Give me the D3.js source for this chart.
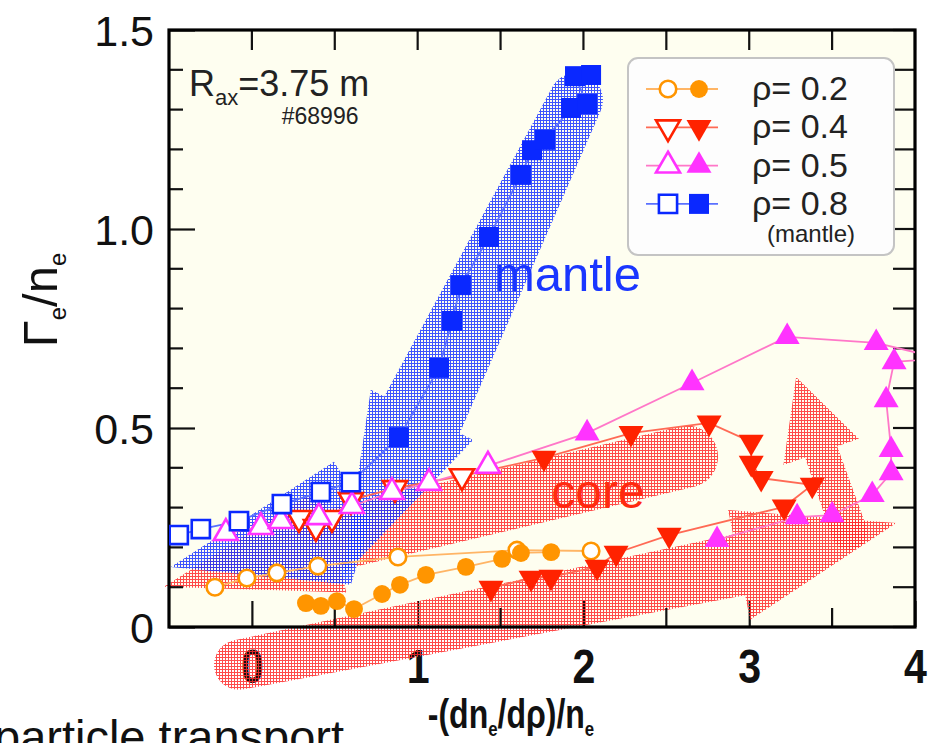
<!DOCTYPE html>
<html><head><meta charset="utf-8">
<script src="https://cdn.jsdelivr.net/npm/d3@7"></script>
<style>
body{margin:0;background:#fff;overflow:hidden}
svg{display:block}
text{font-family:"Liberation Sans",Arial,Helvetica,sans-serif}
</style></head><body>
<svg id="chart" width="930" height="743"></svg>
<script>
// ---- data: normalized gradient -(dn_e/dρ)/n_e  vs  particle flux Γ_e/n_e ----
// ρ = 0.2 (circles)
const rho02Open   = [[-0.223,0.100],[-0.030,0.123],[0.151,0.136],[0.398,0.153],[0.881,0.176],[1.599,0.193],[2.046,0.191]];
const rho02Filled = [[0.326,0.060],[0.416,0.053],[0.513,0.065],[0.616,0.045],[0.785,0.083],[0.893,0.106],[1.050,0.131],[1.291,0.151],[1.509,0.171],[1.623,0.186],[1.805,0.188]];
// ρ = 0.4 (down triangles), filled points in the order they are joined
const rho04Open   = [[0.284,0.274],[0.386,0.251],[0.483,0.274],[0.597,0.319],[0.863,0.349],[1.267,0.379]];
const rho04Filled = [[1.762,0.425],[2.287,0.487],[2.758,0.513],[3.012,0.465],[3.012,0.412],[3.072,0.374],[3.380,0.357],[3.211,0.302],[2.517,0.231],[2.197,0.186],[2.082,0.151],[1.804,0.126],[1.684,0.123],[1.442,0.098]];
// ρ = 0.5 (up triangles); one point of the trace lies beyond x = 4
const rho05Open   = [[-0.157,0.236],[0.054,0.251],[0.175,0.266],[0.404,0.276],[0.604,0.304],[0.845,0.339],[1.068,0.362],[1.424,0.405]];
const rho05Filled = [[2.022,0.487],[2.655,0.613],[3.229,0.729],[3.766,0.714],[4.150,0.675],[3.874,0.666],[3.826,0.570],[3.856,0.445],[3.856,0.387],[3.742,0.332],[3.500,0.281],[3.289,0.276],[2.806,0.219]];
// ρ = 0.8, mantle (squares)
const rho08Open   = [[-0.441,0.231],[-0.308,0.246],[-0.078,0.266],[0.181,0.309],[0.416,0.339],[0.597,0.364]];
const rho08Filled = [[0.887,0.477],[1.129,0.651],[1.207,0.769],[1.261,0.859],[1.430,0.980],[1.623,1.136],[1.690,1.198],[1.768,1.224],[1.925,1.304],[2.022,1.314],[1.949,1.384],[2.046,1.387]];

const xTickValues = [0,1,2,3,4];
const xTickLabels = ["0","1","2","3","4"];
const xMinorValues = [0.5,1.5,2.5,3.5];
const yTickValues = [0,0.5,1.0,1.5];
const yTickLabels = ["0","0.5","1.0","1.5"];
const yMinorValues = [0.1,0.2,0.3,0.4,0.6,0.7,0.8,0.9,1.1,1.2,1.3,1.4];
const legendLabels = ["ρ= 0.2","ρ= 0.4","ρ= 0.5","ρ= 0.8"];

// ---- flow arrows (tail, neck, tip in data units) ----
const flowArrows = [
  {name:"core-inner",  color:"red",  tail:[2.625,0.428], neck:[0.495,0.219], tip:[-0.531,0.101], w0:31, w1:31, wb:54},
  {name:"core-outer",  color:"red",  tail:[-0.078,-0.095], neck:[2.939,0.156], tip:[3.887,0.261], w0:25, w1:31, wb:56},
  {name:"core-rise",   color:"red",  tail:[3.603,0.239], neck:[3.434,0.440], tip:[3.283,0.628], w0:18, w1:17, wb:40},
  {name:"mantle-down", color:"blue", tail:[1.955,1.324], neck:[1.026,0.533], tip:[0.549,0.128], w0:27, w1:42, wb:57}
];
const mantleWedge = [[-0.489,0.151],[0.495,0.415],[0.718,0.269],[0.597,0.106]];

// ---- scales ----
const x = d3.scaleLinear().domain([-0.5,4]).range([169,915]);
const y = d3.scaleLinear().domain([0,1.5]).range([627,30]);

const svg = d3.select("#chart");
const defs = svg.append("defs");
function mesh(id, color){
  const p = defs.append("pattern").attr("id",id).attr("patternUnits","userSpaceOnUse")
    .attr("width",3).attr("height",3);
  p.append("rect").attr("width",3).attr("height",1).attr("fill",color);
  p.append("rect").attr("width",1).attr("height",3).attr("fill",color);
}
mesh("meshRed","#ff2b2b");
mesh("meshBlue","#1c36ff");
defs.append("clipPath").attr("id","plotClip").append("rect")
  .attr("x",x(-0.5)).attr("y",y(1.5)).attr("width",x(4)-x(-0.5)).attr("height",y(0)-y(1.5));

// plot background
svg.append("rect").attr("x",x(-0.5)).attr("y",y(1.5))
  .attr("width",x(4)-x(-0.5)).attr("height",y(0)-y(1.5)).attr("fill","#fefef0");

// ---- axes labels ----
const xAxis = svg.append("g").attr("transform",`translate(0,${y(0)})`)
  .call(d3.axisBottom(x).tickValues(xTickValues).tickSize(-26).tickSizeOuter(0)
    .tickFormat((d,i)=>xTickLabels[i]));
xAxis.select(".domain").remove();
xAxis.selectAll(".tick line").attr("stroke","#111").attr("stroke-width",2.2);
xAxis.selectAll(".tick text").attr("y",0).attr("dy",0)
  .attr("transform","translate(0,56) scale(0.84,1)")
  .attr("font-size",49).attr("font-weight","bold").attr("fill","#111")
  .style("font-family","'Liberation Sans',Arial,sans-serif");

const yAxis = svg.append("g").attr("transform",`translate(${x(-0.5)},0)`)
  .call(d3.axisLeft(y).tickValues(yTickValues).tickSize(-26).tickSizeOuter(0)
    .tickFormat((d,i)=>yTickLabels[i]));
yAxis.select(".domain").remove();
yAxis.selectAll(".tick line").attr("stroke","#111").attr("stroke-width",2.2);
yAxis.selectAll(".tick text").attr("x",-15).attr("dy","0.36em")
  .attr("font-size",43).attr("fill","#111").attr("text-anchor","end")
  .style("font-family","'Liberation Sans',Arial,sans-serif");

// axis titles
const xt = svg.append("text").attr("transform","translate(511,728) scale(0.8,1)")
  .attr("text-anchor","middle").attr("font-size",40).attr("font-weight","bold").attr("fill","#111");
xt.append("tspan").text("-(dn");
xt.append("tspan").text("e").attr("font-size",21).attr("dy",8);
xt.append("tspan").text("/dρ)/n").attr("dy",-8);
xt.append("tspan").text("e").attr("font-size",21).attr("dy",8);

const yt = svg.append("text").attr("transform","translate(57,300) rotate(-90)")
  .attr("text-anchor","middle").attr("font-size",49).attr("fill","#111");
yt.append("tspan").text("Γ");
yt.append("tspan").text("e").attr("font-size",24).attr("dy",9);
yt.append("tspan").text("/n").attr("dy",-9);
yt.append("tspan").text("e").attr("font-size",24).attr("dy",9);

// caption line below
svg.append("text").attr("x",-6).attr("y",753).attr("font-size",47).attr("fill","#111")
  .text("particle transport");

// ---- flow arrows ----
function arrowPath(a){
  const T=[x(a.tail[0]),y(a.tail[1])], N=[x(a.neck[0]),y(a.neck[1])], P=[x(a.tip[0]),y(a.tip[1])];
  const dx=N[0]-T[0], dy=N[1]-T[1], L=Math.hypot(dx,dy);
  const ux=dx/L, uy=dy/L, px=-uy, py=ux;
  const pt=(c,w)=>[c[0]+px*w, c[1]+py*w];
  const tl=pt(T,a.w0), tr=pt(T,-a.w0), nl=pt(N,a.w1), nr=pt(N,-a.w1), bl=pt(N,a.wb), br=pt(N,-a.wb);
  return `M${tl}L${nl}L${bl}L${P}L${br}L${nr}L${tr}A${a.w0},${a.w0} 0 0 0 ${tl}Z`;
}
const arrowLayer = svg.append("g");
flowArrows.filter(a=>a.color==="red").forEach(a=>{
  arrowLayer.append("path").attr("d",arrowPath(a)).attr("fill","url(#meshRed)").attr("opacity",0.85);
});
flowArrows.filter(a=>a.color==="blue").forEach(a=>{
  arrowLayer.append("path").attr("d",arrowPath(a)).attr("fill","url(#meshBlue)").attr("opacity",0.85);
});
arrowLayer.append("path")
  .attr("d",d3.line().x(d=>x(d[0])).y(d=>y(d[1]))(mantleWedge)+"Z")
  .attr("fill","url(#meshBlue)").attr("opacity",0.85);

// ---- frame and inward ticks ----
const frame = svg.append("g");
function tickLines(vals, fn){
  vals.forEach(v=>{ const c=fn(v);
    frame.append("line").attr("x1",c[0]).attr("y1",c[1]).attr("x2",c[2]).attr("y2",c[3])
     .attr("stroke","#111").attr("stroke-width",2.2); });
}
tickLines(xMinorValues, v=>[x(v),y(0),x(v),y(0)-19]);
tickLines(yMinorValues, v=>[x(-0.5),y(v),x(-0.5)+14,y(v)]);
tickLines(xTickValues.concat(xMinorValues), v=>[x(v),y(1.5),x(v),y(1.5)+20]);
tickLines(yTickValues.concat(yMinorValues), v=>[x(4),y(v),x(4)-22,y(v)]);
frame.append("rect").attr("x",x(-0.5)).attr("y",y(1.5))
  .attr("width",x(4)-x(-0.5)).attr("height",y(0)-y(1.5))
  .attr("fill","none").attr("stroke","#000").attr("stroke-width",3.2);

// ---- data series ----
const series = [
  {open:rho02Open, filled:rho02Filled, color:"#ff9500", line:"#ffb565", shape:"circle", joined:false},
  {open:rho04Open, filled:rho04Filled, color:"#ff2200", line:"#ff6a55", shape:"down", joined:true},
  {open:rho05Open, filled:rho05Filled, color:"#ff33ff", line:"#ff77c8", shape:"up", joined:true},
  {open:rho08Open, filled:rho08Filled, color:"#0a28ff", line:"#5a70ff", shape:"square", joined:true}
];
const symType = {circle:d3.symbolCircle, down:d3.symbolTriangle, up:d3.symbolTriangle, square:d3.symbolSquare};
const symSize = {circle:250, down:270, up:270, square:400};
const symOpenSize = {circle:215, down:250, up:250, square:330};
function symbolPath(shape, open){
  return d3.symbol().type(symType[shape]).size(open?symOpenSize[shape]:symSize[shape])();
}
const line = d3.line().x(d=>x(d[0])).y(d=>y(d[1]));
const dataLayer = svg.append("g");
const lineLayer = dataLayer.append("g").attr("clip-path","url(#plotClip)");
series.forEach(s=>{
  const paths = s.joined ? [s.open.concat(s.filled)] : [s.open, s.filled];
  paths.forEach(p=>lineLayer.append("path").attr("d",line(p)).attr("fill","none")
    .attr("stroke",s.line).attr("stroke-width",1.8));
});
const markLayer = dataLayer.append("g").attr("clip-path","url(#plotClip)");
series.forEach(s=>{
  const rot = s.shape==="down" ? " rotate(180)" : "";
  markLayer.selectAll(null).data(s.open).enter().append("path")
    .attr("d",symbolPath(s.shape,true))
    .attr("transform",d=>`translate(${x(d[0])},${y(d[1])})${rot}`)
    .attr("fill","#fff").attr("stroke",s.color).attr("stroke-width",2.6);
  markLayer.selectAll(null).data(s.filled).enter().append("path")
    .attr("d",symbolPath(s.shape,false))
    .attr("transform",d=>`translate(${x(d[0])},${y(d[1])})${rot}`)
    .attr("fill",s.color);
});

// ---- annotations ----
const rax = svg.append("text").attr("x",x(-0.38)).attr("y",y(1.335)).attr("font-size",36).attr("fill","#222");
rax.append("tspan").text("R");
rax.append("tspan").text("ax").attr("font-size",22).attr("dy",9);
rax.append("tspan").text("=3.75 m").attr("dy",-9);
svg.append("text").attr("x",x(0.18)).attr("y",y(1.265)).attr("font-size",23).attr("fill","#222").text("#68996");
svg.append("text").attr("x",x(1.46)).attr("y",y(0.845)).attr("font-size",49).attr("fill","#1a36ff").text("mantle");
svg.append("text").attr("x",x(1.806)).attr("y",y(0.30)).attr("font-size",48).attr("fill","#ff2a10").text("core");

// ---- legend ----
const lg = svg.append("g");
lg.append("rect").attr("x",628).attr("y",58).attr("width",266).attr("height",197).attr("rx",10)
  .attr("fill","#fdfdfd").attr("stroke","#c4c4c4").attr("stroke-width",2);
series.forEach((s,i)=>{
  const ry = 89 + i*38.3;
  const rot = s.shape==="down" ? " rotate(180)" : "";
  lg.append("line").attr("x1",646).attr("x2",718).attr("y1",ry).attr("y2",ry)
    .attr("stroke",s.line).attr("stroke-width",1.8);
  lg.append("path").attr("d",symbolPath(s.shape,true)).attr("transform",`translate(668,${ry})${rot}`)
    .attr("fill","#fff").attr("stroke",s.color).attr("stroke-width",2.6);
  lg.append("path").attr("d",symbolPath(s.shape,false)).attr("transform",`translate(699,${ry})${rot}`)
    .attr("fill",s.color);
  lg.append("text").attr("x",752).attr("y",ry+11).attr("font-size",34).attr("fill","#222")
    .text(legendLabels[i]);
});
lg.append("text").attr("x",767).attr("y",242).attr("font-size",24).attr("fill","#222").text("(mantle)");
</script>
</body></html>
